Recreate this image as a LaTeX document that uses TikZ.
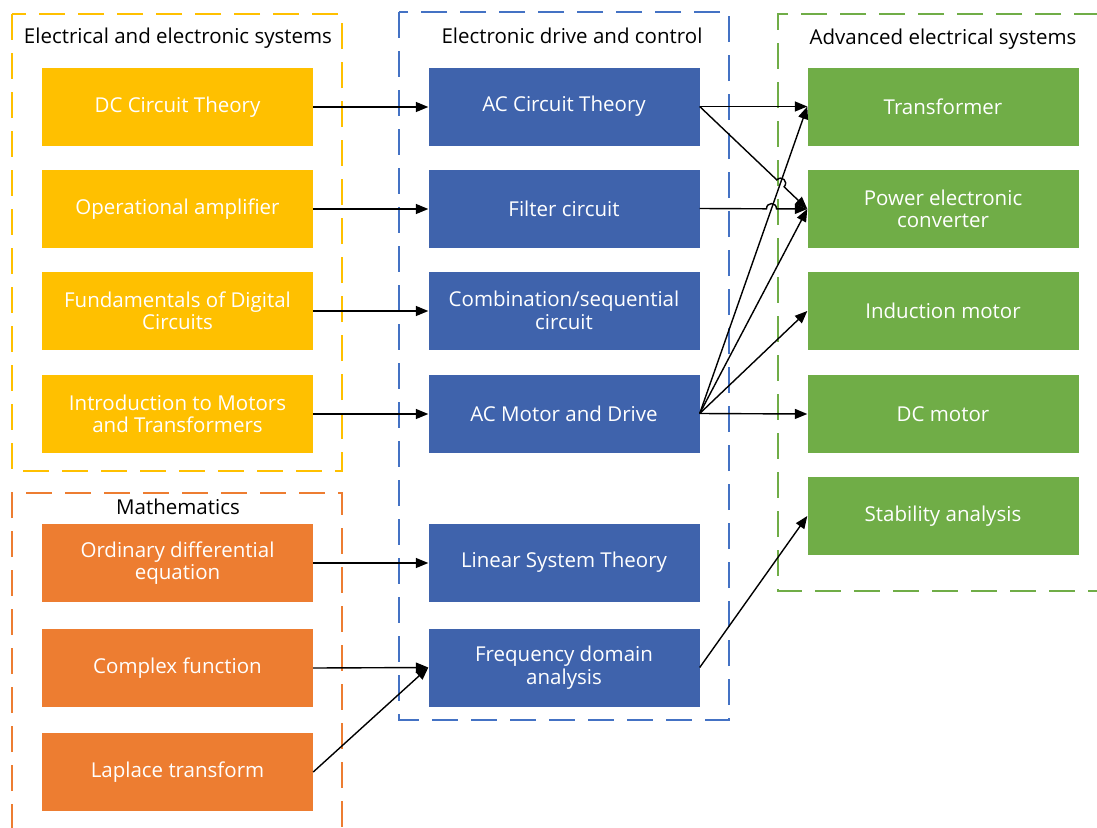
\documentclass[tikz,border=0pt]{standalone}
\usepackage{fontspec}
\setmainfont{Open Sans}
\usetikzlibrary{arrows.meta,calc}
\definecolor{cyel}{HTML}{FFC000}
\definecolor{cora}{HTML}{ED7D31}
\definecolor{cblu}{HTML}{3F63AC}
\definecolor{cgrn}{HTML}{70AD47}
\definecolor{dblu}{HTML}{4472C4}
\begin{document}
\begin{tikzpicture}[x=1pt,y=-1pt,
  box/.style={minimum width=271pt, minimum height=78pt, inner sep=0pt, align=center, text=white, font=\fontsize{20.5}{22.5}\selectfont},
  ybox/.style={box, fill=cyel},
  obox/.style={box, fill=cora},
  bbox/.style={box, fill=cblu},
  gbox/.style={box, fill=cgrn},
  grp/.style={line width=1.3pt, dash pattern=on 26pt off 13pt},
  ttl/.style={font=\fontsize{20.5}{22.5}\selectfont, text=black, inner sep=0pt},
  conn/.style={line width=1.4pt, -{Triangle[length=12.5pt,width=10pt]}}
]
\useasboundingbox (0,0) rectangle (1097,827);
% groups
\draw[grp, cyel] (12,14) rectangle (342,471);
\draw[grp, cora] (12,830) -- (12,493) -- (342,493) -- (342,830);
\draw[grp, dblu] (399,12) rectangle (729,720);
\draw[grp, cgrn] (1100,14) -- (778,14) -- (778,591) -- (1100,591);
% titles
\node[ttl] (t1) at (178,38) {Electrical and electronic systems};
\node[ttl] (t2) at (572,36) {Electronic drive and control};
\node[ttl] (t3) at (943,39) {Advanced electrical systems};
\node[ttl] (t4) at (178,507) {Mathematics};
% left column
\node[ybox] (dc) at (177.5,107) {DC Circuit Theory};
\node[ybox] (op) at (177.5,209) {Operational amplifier};
\node[ybox] (fd) at (177.5,311) {Fundamentals of Digital\\Circuits};
\node[ybox] (im) at (177.5,414) {Introduction to Motors\\and Transformers};
\node[obox] (ode) at (177.5,563) {Ordinary differential\\equation};
\node[obox] (cf) at (177.5,668) {Complex function};
\node[obox] (lt) at (177.5,772) {Laplace transform};
% middle column
\node[bbox] (ac) at (564,106.5) {AC Circuit Theory};
\node[bbox] (flt) at (564,208.5) {Filter circuit};
\node[bbox] (cs) at (564,310.5) {Combination/sequential\\circuit};
\node[bbox] (acm) at (564,413.5) {AC Motor and Drive};
\node[bbox] (lst) at (564,562.5) {Linear System Theory};
\node[bbox] (fda) at (564,667.5) {Frequency domain\\analysis};
% right column
\node[gbox] (tr) at (943,106.5) {Transformer};
\node[gbox] (pec) at (943,209) {Power electronic\\converter};
\node[gbox] (ind) at (943,311) {Induction motor};
\node[gbox] (dcm) at (943,414) {DC motor};
\node[gbox] (sta) at (943,516) {Stability analysis};
% connectors
\draw[conn] (dc.east) -- (dc.east -| ac.west);
\draw[conn] (op.east) -- (op.east -| flt.west);
\draw[conn] (fd.east) -- (fd.east -| cs.west);
\draw[conn] (im.east) -- (im.east -| acm.west);
\draw[conn] (ode.east) -- (ode.east -| lst.west);
\draw[conn] (cf.east) -- (fda.west);
\draw[conn] (lt.east) -- (fda.west);
\draw[conn] (ac.east) -- (tr.west);
\draw[conn] (acm.east) -- (tr.west);
\draw[conn] (acm.east) -- (pec.west);
\draw[conn] (acm.east) -- (ind.west);
\draw[conn] (acm.east) -- (dcm.west);
\draw[conn] (fda.east) -- (sta.west);
% hops
\coordinate (h1) at (intersection of acm.east--tr.west and flt.east--pec.west);
\coordinate (h2) at (intersection of acm.east--tr.west and ac.east--pec.west);
\coordinate (a1) at ($(h1)!5pt!(flt.east)$);
\coordinate (b1) at ($(h1)!5pt!(pec.west)$);
\coordinate (a2) at ($(h2)!5pt!(ac.east)$);
\coordinate (b2) at ($(h2)!5pt!(pec.west)$);
\draw[conn] (flt.east) -- (a1) .. controls ($(a1)!7pt!90:(h1)$) and ($(b1)!7pt!-90:(h1)$) .. (b1) -- (pec.west);
\draw[conn] (ac.east) -- (a2) .. controls ($(a2)!7pt!90:(h2)$) and ($(b2)!7pt!-90:(h2)$) .. (b2) -- (pec.west);
\end{tikzpicture}
\end{document}
